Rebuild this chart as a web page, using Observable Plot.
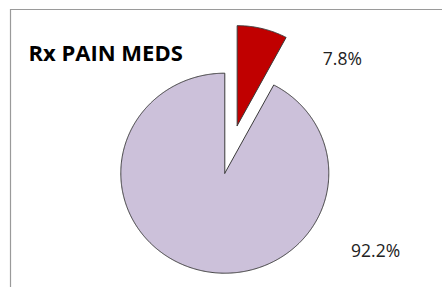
<!DOCTYPE html>
<html>
<head>
<meta charset="utf-8">
<script src="https://cdn.jsdelivr.net/npm/d3@7"></script>
<script src="https://cdn.jsdelivr.net/npm/@observablehq/plot@0.6"></script>
<style>
  html, body { margin: 0; padding: 0; background: #fff; }
  #chart svg { display: block; }
</style>
</head>
<body>
<div id="chart"></div>
<script>
// ---- data ----
const title = "Rx PAIN MEDS";
const categories = ["Rx pain meds", "Other"];
const values = [7.8, 92.2];
const valueLabels = ["7.8%", "92.2%"];
const sliceColors = ["#C00000", "#CCC1DA"];
const exploded = [true, false];

// ---- geometry derived from data ----
const W = 442, H = 287;
const explodeDist = 0.49;
const pie = d3.pie().sort(null).value(d => d)(values);
const slices = pie.map((p, i) => {
  const mid = (p.startAngle + p.endAngle) / 2;
  const off = exploded[i] ? explodeDist : 0;
  const ox = off * Math.sin(mid), oy = off * Math.cos(mid);
  const pts = [{cat: categories[i], x: ox, y: oy}];
  const n = Math.max(4, Math.ceil((p.endAngle - p.startAngle) / (Math.PI / 360)));
  for (let k = 0; k <= n; k++) {
    const a = p.startAngle + (p.endAngle - p.startAngle) * k / n;
    pts.push({cat: categories[i], x: ox + Math.sin(a), y: oy + Math.cos(a)});
  }
  pts.push({cat: categories[i], x: ox, y: oy});
  return {pts, mid, ox, oy, color: sliceColors[i], label: valueLabels[i]};
});

// anchors on the outer edge of each slice
const anchors = slices.map(s => ({
  x: s.ox + Math.sin(s.mid),
  y: s.oy + Math.cos(s.mid),
  label: s.label
}));

const font = "'Open Sans', 'DejaVu Sans', sans-serif";

const plot = Plot.plot({
  width: W,
  height: H,
  marginLeft: 10,
  marginTop: 9,
  marginRight: 0,
  marginBottom: 0,
  x: {domain: [-2.0606, 2.0933], axis: null},
  y: {domain: [-1.143, 1.637], axis: null},
  style: {fontFamily: font, background: "#fff"},
  marks: [
    ...slices.map(s => Plot.line(s.pts, {
      x: "x", y: "y", fill: s.color, stroke: "#3a3a3a", strokeWidth: 1, curve: "linear"
    })),
    Plot.ruleX([-2.0606], {stroke: "#9a9a9a", strokeWidth: 1.2}),
    Plot.ruleY([1.637], {stroke: "#9a9a9a", strokeWidth: 1.2}),
    Plot.text([title], {
      frameAnchor: "top-left", dx: 18, dy: 44, text: d => d,
      fontSize: 22, fontWeight: "bold", fill: "#000", textAnchor: "start", lineAnchor: "middle"
    }),
    Plot.text([anchors[0]], {
      x: "x", y: "y", text: "label", dx: 80, dy: 31,
      fontSize: 17.5, fill: "#222", lineAnchor: "middle"
    }),
    Plot.text([anchors[1]], {
      x: "x", y: "y", text: "label", dx: 176, dy: -19,
      fontSize: 17.5, fill: "#222", lineAnchor: "middle"
    })
  ]
});
document.getElementById("chart").appendChild(plot);
</script>
</body>
</html>
